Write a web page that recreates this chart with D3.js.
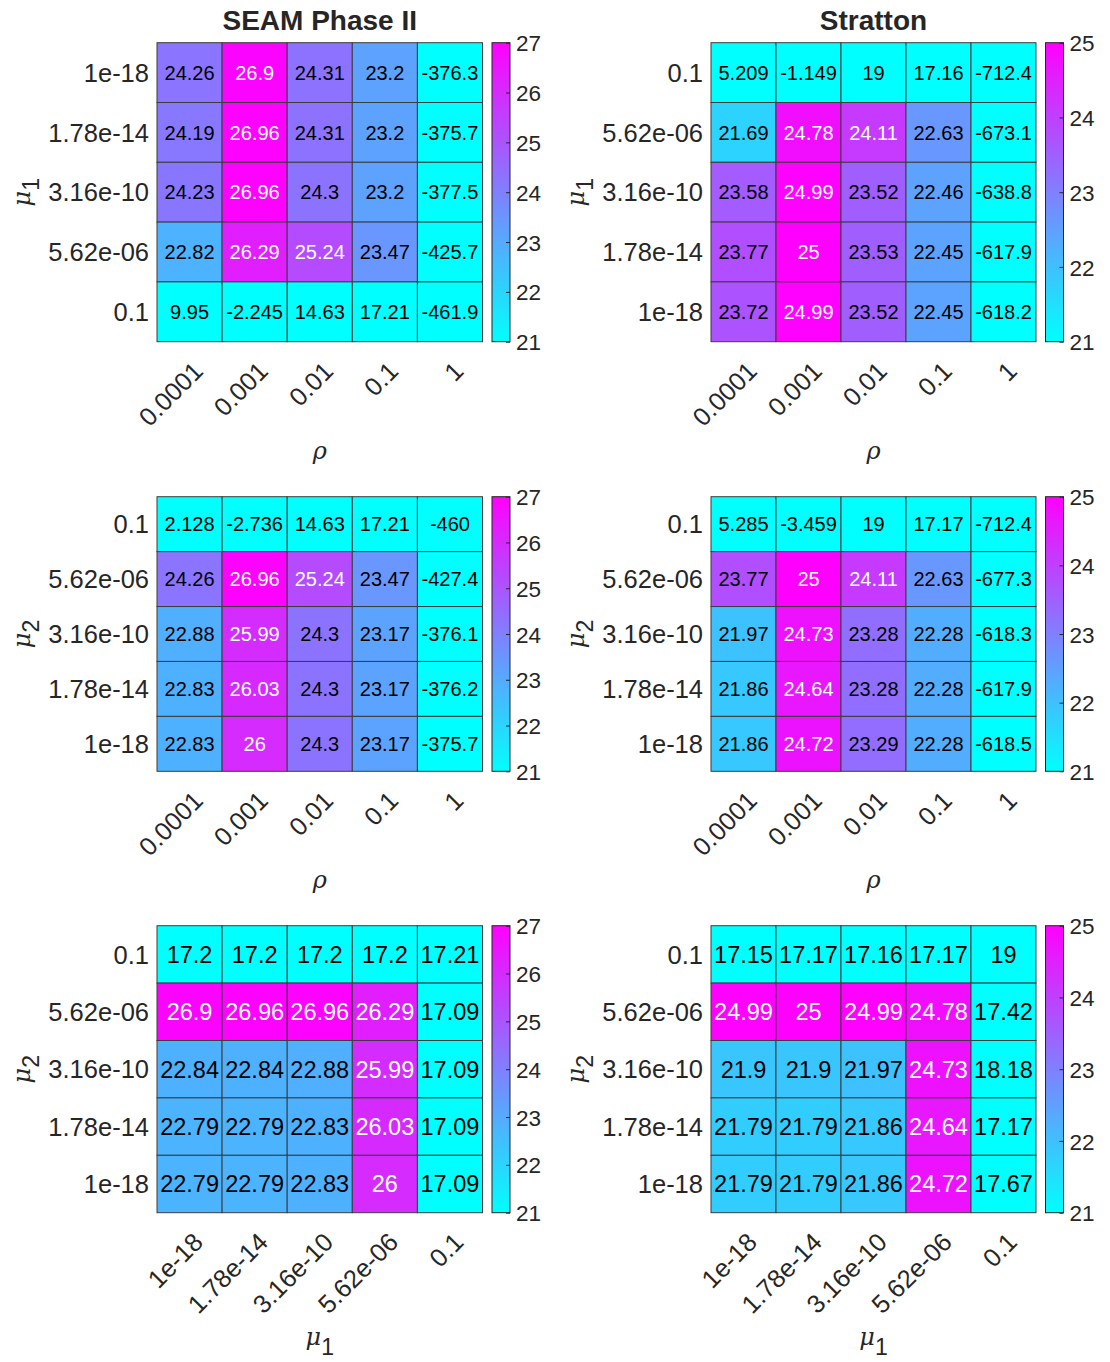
<!DOCTYPE html>
<html>
<head>
<meta charset="utf-8">
<script src="https://cdn.jsdelivr.net/npm/d3@7"></script>
<style>
  html, body { margin: 0; padding: 0; background: #fff; }
  svg { display: block; font-family: "Liberation Sans", Arial, Helvetica, sans-serif; }
</style>
</head>
<body>
<script>
// ---- tick labels -------------------------------------------------------
const rhoTicks = ["0.0001", "0.001", "0.01", "0.1", "1"];
const muAscTicks = ["1e-18", "1.78e-14", "3.16e-10", "5.62e-06", "0.1"];
const muDescTicks = ["0.1", "5.62e-06", "3.16e-10", "1.78e-14", "1e-18"];
const seamColorTicks = [21, 22, 23, 24, 25, 26, 27];
const strattonColorTicks = [21, 22, 23, 24, 25];

// ---- SEAM Phase II -----------------------------------------------------
// rows: mu1 = 1e-18 ... 0.1 ; columns: rho
const seamMu1Rho = [
  [24.26, 26.9, 24.31, 23.2, -376.3],
  [24.19, 26.96, 24.31, 23.2, -375.7],
  [24.23, 26.96, 24.3, 23.2, -377.5],
  [22.82, 26.29, 25.24, 23.47, -425.7],
  [9.95, -2.245, 14.63, 17.21, -461.9]
];
// rows: mu2 = 0.1 ... 1e-18 ; columns: rho
const seamMu2Rho = [
  [2.128, -2.736, 14.63, 17.21, -460],
  [24.26, 26.96, 25.24, 23.47, -427.4],
  [22.88, 25.99, 24.3, 23.17, -376.1],
  [22.83, 26.03, 24.3, 23.17, -376.2],
  [22.83, 26, 24.3, 23.17, -375.7]
];
// rows: mu2 = 0.1 ... 1e-18 ; columns: mu1 = 1e-18 ... 0.1
const seamMu2Mu1 = [
  [17.2, 17.2, 17.2, 17.2, 17.21],
  [26.9, 26.96, 26.96, 26.29, 17.09],
  [22.84, 22.84, 22.88, 25.99, 17.09],
  [22.79, 22.79, 22.83, 26.03, 17.09],
  [22.79, 22.79, 22.83, 26, 17.09]
];

// ---- Stratton ----------------------------------------------------------
// rows: mu1 = 0.1 ... 1e-18 ; columns: rho
const strattonMu1Rho = [
  [5.209, -1.149, 19, 17.16, -712.4],
  [21.69, 24.78, 24.11, 22.63, -673.1],
  [23.58, 24.99, 23.52, 22.46, -638.8],
  [23.77, 25, 23.53, 22.45, -617.9],
  [23.72, 24.99, 23.52, 22.45, -618.2]
];
// rows: mu2 = 0.1 ... 1e-18 ; columns: rho
const strattonMu2Rho = [
  [5.285, -3.459, 19, 17.17, -712.4],
  [23.77, 25, 24.11, 22.63, -677.3],
  [21.97, 24.73, 23.28, 22.28, -618.3],
  [21.86, 24.64, 23.28, 22.28, -617.9],
  [21.86, 24.72, 23.29, 22.28, -618.5]
];
// rows: mu2 = 0.1 ... 1e-18 ; columns: mu1 = 1e-18 ... 0.1
const strattonMu2Mu1 = [
  [17.15, 17.17, 17.16, 17.17, 19],
  [24.99, 25, 24.99, 24.78, 17.42],
  [21.9, 21.9, 21.97, 24.73, 18.18],
  [21.79, 21.79, 21.86, 24.64, 17.17],
  [21.79, 21.79, 21.86, 24.72, 17.67]
];

// ---- figure layout -----------------------------------------------------
const W = 1110, H = 1362;
const columns = [{ x0: 157, x1: 482.5 }, { x0: 711, x1: 1036 }];
const rows = [
  { y0: 42.7, y1: 341.7, xLabelGap: 117, cellFont: 20 },
  { y0: 496.7, y1: 771.3, xLabelGap: 117, cellFont: 20 },
  { y0: 925.7, y1: 1212.7, xLabelGap: 136, cellFont: 23.5 }
];

const panels = [
  { col: 0, row: 0, title: "SEAM Phase II", values: seamMu1Rho, xs: rhoTicks, ys: muAscTicks,
    xName: "ρ", xSub: null, yName: "μ", ySub: "1", cTicks: seamColorTicks },
  { col: 1, row: 0, title: "Stratton", values: strattonMu1Rho, xs: rhoTicks, ys: muDescTicks,
    xName: "ρ", xSub: null, yName: "μ", ySub: "1", cTicks: strattonColorTicks },
  { col: 0, row: 1, title: null, values: seamMu2Rho, xs: rhoTicks, ys: muDescTicks,
    xName: "ρ", xSub: null, yName: "μ", ySub: "2", cTicks: seamColorTicks },
  { col: 1, row: 1, title: null, values: strattonMu2Rho, xs: rhoTicks, ys: muDescTicks,
    xName: "ρ", xSub: null, yName: "μ", ySub: "2", cTicks: strattonColorTicks },
  { col: 0, row: 2, title: null, values: seamMu2Mu1, xs: muAscTicks, ys: muDescTicks,
    xName: "μ", xSub: "1", yName: "μ", ySub: "2", cTicks: seamColorTicks },
  { col: 1, row: 2, title: null, values: strattonMu2Mu1, xs: muAscTicks, ys: muDescTicks,
    xName: "μ", xSub: "1", yName: "μ", ySub: "2", cTicks: strattonColorTicks }
];

const axisInk = "#262626";
const gridInk = "#3c3c3c";
const sansFont = "Liberation Sans, Arial, sans-serif";
const cool = d3.interpolateRgb("#00ffff", "#ff00ff");
const fmt = v => d3.format(".4~g")(v).replace("\u2212", "-");

const svg = d3.select("body").append("svg")
  .attr("width", W).attr("height", H)
  .attr("viewBox", `0 0 ${W} ${H}`);
svg.append("rect").attr("width", W).attr("height", H).attr("fill", "#fff");

const defs = svg.append("defs");
const grad = defs.append("linearGradient").attr("id", "coolmap")
  .attr("x1", 0).attr("y1", 1).attr("x2", 0).attr("y2", 0);
d3.range(0, 1.0001, 0.1).forEach(t => {
  grad.append("stop").attr("offset", t).attr("stop-color", cool(t));
});

panels.forEach(p => {
  const C = columns[p.col], R = rows[p.row];
  const cMin = d3.min(p.cTicks), cMax = d3.max(p.cTicks);
  const norm = d3.scaleLinear().domain([cMin, cMax]).range([0, 1]).clamp(true);

  const x = d3.scaleBand().domain(p.xs).range([C.x0, C.x1]);
  const y = d3.scaleBand().domain(p.ys).range([R.y0, R.y1]);
  const g = svg.append("g");

  // heatmap cells
  const cells = [];
  p.values.forEach((row, i) => row.forEach((v, j) => cells.push({ v, xl: p.xs[j], yl: p.ys[i] })));

  g.selectAll("rect.cell").data(cells).join("rect")
    .attr("class", "cell")
    .attr("x", d => x(d.xl)).attr("y", d => y(d.yl))
    .attr("width", x.bandwidth()).attr("height", y.bandwidth())
    .attr("fill", d => cool(norm(d.v)))
    .attr("stroke", gridInk).attr("stroke-width", 1);

  g.selectAll("text.val").data(cells).join("text")
    .attr("class", "val")
    .attr("x", d => x(d.xl) + x.bandwidth() / 2)
    .attr("y", d => y(d.yl) + y.bandwidth() / 2)
    .attr("dy", "0.36em")
    .attr("text-anchor", "middle")
    .attr("font-size", R.cellFont)
    .attr("fill", d => {
      const c = d3.rgb(cool(norm(d.v)));
      const lum = (0.299 * c.r + 0.587 * c.g + 0.114 * c.b) / 255;
      return lum > 0.5 ? "#000" : "#fff";
    })
    .text(d => fmt(d.v));

  // y axis
  const ya = g.append("g").attr("transform", `translate(${C.x0},0)`)
    .call(d3.axisLeft(y).tickSize(0).tickPadding(8));
  ya.select(".domain").remove();
  ya.selectAll("text").attr("font-size", 25.5).attr("fill", axisInk)
    .attr("font-family", sansFont).attr("dy", "0.36em");

  // x axis with slanted labels
  const xa = g.append("g").attr("transform", `translate(0,${R.y1})`)
    .call(d3.axisBottom(x).tickSize(0));
  xa.select(".domain").remove();
  xa.selectAll("text")
    .attr("font-size", 25.5).attr("fill", axisInk)
    .attr("font-family", sansFont)
    .attr("x", 0).attr("y", 0).attr("dy", 0)
    .attr("text-anchor", "end")
    .attr("transform", "translate(15,31) rotate(-45)");

  // axis names
  const xl = g.append("text")
    .attr("x", (C.x0 + C.x1) / 2).attr("y", R.y1 + R.xLabelGap - (p.xSub ? 4 : 0))
    .attr("text-anchor", "middle").attr("fill", axisInk)
    .attr("font-family", "DejaVu Serif, Liberation Serif, serif");
  xl.append("tspan").attr("font-style", "italic").attr("font-size", 24).text(p.xName);
  if (p.xSub) xl.append("tspan").attr("font-size", 23).attr("dy", 10)
    .attr("font-family", sansFont).text(p.xSub);

  const yl = g.append("text")
    .attr("transform", `translate(${C.x0 - 127},${(R.y0 + R.y1) / 2}) rotate(-90)`)
    .attr("text-anchor", "middle").attr("fill", axisInk)
    .attr("font-family", "DejaVu Serif, Liberation Serif, serif");
  yl.append("tspan").attr("font-style", "italic").attr("font-size", 24).text(p.yName);
  yl.append("tspan").attr("font-size", 23).attr("dy", 9)
    .attr("font-family", sansFont).text(p.ySub);

  // colorbar
  const cbx = C.x1 + 9.5, cbw = 18;
  const cy = d3.scaleLinear().domain([cMin, cMax]).range([R.y1, R.y0]);
  g.append("rect")
    .attr("x", cbx).attr("y", R.y0).attr("width", cbw).attr("height", R.y1 - R.y0)
    .attr("fill", "url(#coolmap)").attr("stroke", axisInk).attr("stroke-width", 1);
  const ca = g.append("g").attr("transform", `translate(${cbx + cbw},0)`)
    .call(d3.axisRight(cy).tickValues(p.cTicks).tickSize(-4).tickPadding(6).tickFormat(d3.format("d")));
  ca.select(".domain").remove();
  ca.selectAll("line").attr("stroke", axisInk);
  ca.selectAll("text").attr("font-size", 22.5).attr("fill", axisInk)
    .attr("font-family", sansFont).attr("dy", "0.36em");

  // title
  if (p.title) {
    g.append("text")
      .attr("x", (C.x0 + C.x1) / 2).attr("y", 30)
      .attr("text-anchor", "middle").attr("font-weight", "bold")
      .attr("font-size", 28).attr("fill", axisInk)
      .text(p.title);
  }
});
</script>
</body>
</html>
